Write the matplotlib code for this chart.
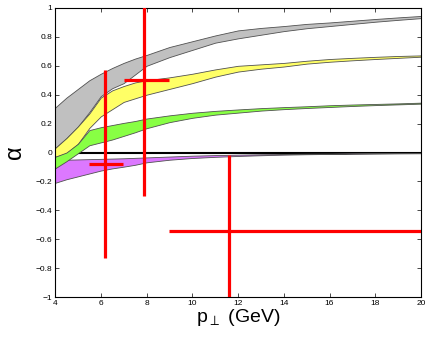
import numpy as np
import matplotlib
matplotlib.use("Agg")
import matplotlib.pyplot as plt

plt.rcParams['font.family'] = ['Liberation Sans', 'DejaVu Sans']

# p_perp grid (GeV)
pt = [4, 4.5, 5, 5.5, 6, 6.5, 7, 7.5, 8, 9, 10, 11, 12, 13, 14, 15, 16, 17, 18, 19, 20]

gray_hi = [0.31, 0.38, 0.44, 0.50, 0.545, 0.585, 0.62, 0.65, 0.675, 0.73, 0.77, 0.81,
           0.845, 0.862, 0.875, 0.89, 0.90, 0.912, 0.924, 0.935, 0.945]
gray_lo = [0.03, 0.10, 0.18, 0.28, 0.39, 0.445, 0.48, 0.54, 0.60, 0.66, 0.71, 0.76,
           0.79, 0.815, 0.84, 0.86, 0.875, 0.89, 0.905, 0.918, 0.93]

yellow_hi = [0.03, 0.10, 0.18, 0.27, 0.38, 0.43, 0.46, 0.485, 0.50, 0.52, 0.545, 0.575,
             0.60, 0.61, 0.62, 0.635, 0.647, 0.655, 0.662, 0.668, 0.672]
yellow_lo = [-0.03, -0.005, 0.06, 0.17, 0.25, 0.30, 0.35, 0.375, 0.40, 0.44, 0.48, 0.525,
             0.56, 0.58, 0.595, 0.615, 0.628, 0.638, 0.647, 0.655, 0.663]

green_hi = [-0.03, 0.0, 0.06, 0.155, 0.175, 0.19, 0.205, 0.218, 0.235, 0.257, 0.275, 0.288,
            0.298, 0.307, 0.314, 0.32, 0.327, 0.332, 0.336, 0.34, 0.345]
green_lo = [-0.11, -0.06, -0.005, 0.05, 0.07, 0.09, 0.115, 0.14, 0.168, 0.21, 0.24, 0.262,
            0.276, 0.29, 0.30, 0.308, 0.315, 0.322, 0.328, 0.333, 0.338]

purple_hi = [-0.05, -0.05, -0.048, -0.046, -0.044, -0.042, -0.04, -0.037, -0.034, -0.028,
             -0.022, -0.018, -0.015, -0.012, -0.01, -0.008, -0.007, -0.006, -0.005, -0.004, -0.003]
purple_lo = [-0.21, -0.185, -0.165, -0.145, -0.125, -0.11, -0.098, -0.085, -0.068, -0.05,
             -0.038, -0.03, -0.024, -0.019, -0.015, -0.012, -0.01, -0.008, -0.007, -0.006, -0.005]

# data points with asymmetric errors
pts_x = [6.2, 7.9, 11.6]
pts_y = [-0.08, 0.5, -0.54]
xerr_lo = [0.72, 0.9, 2.6]
xerr_hi = [0.78, 1.1, 9.0]
yerr_lo = [0.65, 0.8, 0.52]
yerr_hi = [0.65, 0.8, 0.52]

xticks = [4, 6, 8, 10, 12, 14, 16, 18, 20]
yticks = [-1, -0.8, -0.6, -0.4, -0.2, 0, 0.2, 0.4, 0.6, 0.8, 1]
ytick_labels = ['\u22121', '\u22120.8', '\u22120.6', '\u22120.4', '\u22120.2', '0',
                '0.2', '0.4', '0.6', '0.8', '1']

fig = plt.figure(figsize=(4.29, 3.37), dpi=100)
ax = fig.add_axes([55 / 429, 1 - 297 / 337, 366 / 429, 289 / 337])

ax.axhline(0, color='black', lw=1.5, zorder=1)

bands = [(gray_lo, gray_hi, '#c0c0c0'),
         (yellow_lo, yellow_hi, '#ffff66'),
         (purple_lo, purple_hi, '#dc78ff'),
         (green_lo, green_hi, '#88ff44')]
for lo, hi, col in bands:
    ax.fill_between(pt, lo, hi, facecolor=col, edgecolor='#505050', lw=0.6, zorder=2)

ax.errorbar(pts_x, pts_y, xerr=[xerr_lo, xerr_hi], yerr=[yerr_lo, yerr_hi],
            fmt='none', ecolor='red', elinewidth=2.3, capsize=0, zorder=4)

ax.set_xlim(4, 20)
ax.set_ylim(-1, 1)
ax.set_xticks(xticks)
ax.set_xticklabels([str(t) for t in xticks])
ax.set_yticks(yticks)
ax.set_yticklabels(ytick_labels)
ax.tick_params(direction='in', length=3, width=0.5, labelsize=6, pad=2,
               top=True, right=True)
for s in ax.spines.values():
    s.set_linewidth(0.8)

ax.set_xlabel(r'p$_{\perp}$ (GeV)', fontsize=14)
ax.xaxis.set_label_coords(0.5, -0.035)
ax.set_ylabel('\u03b1', fontsize=17)
ax.yaxis.set_label_coords(-0.078, 0.5)

fig.savefig('out.png', dpi=100)
